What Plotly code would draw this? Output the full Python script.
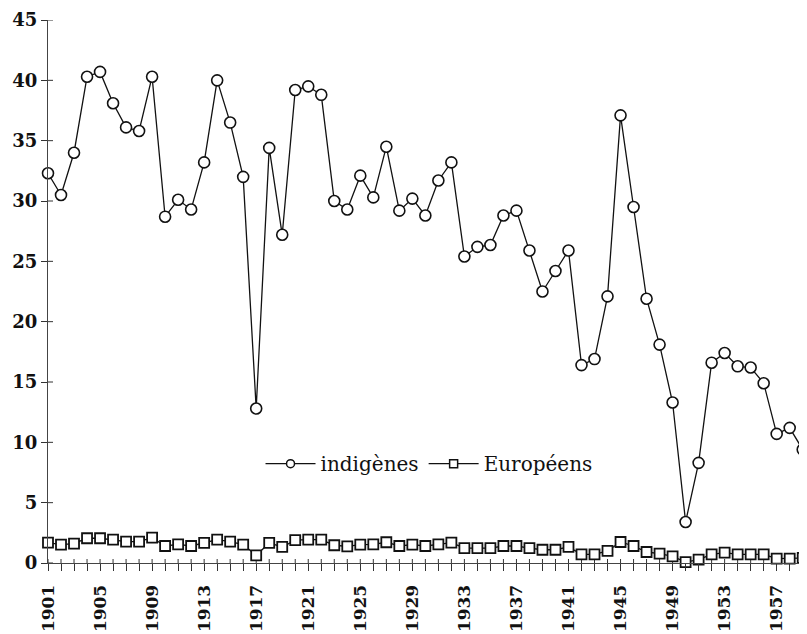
import plotly.graph_objects as go

years = list(range(1901, 1960))
indigenes = [32.3, 30.5, 34.0, 40.3, 40.7, 38.1, 36.1, 35.8, 40.3, 28.7,
             30.1, 29.3, 33.2, 40.0, 36.5, 32.0, 12.8, 34.4, 27.2, 39.2,
             39.5, 38.8, 30.0, 29.3, 32.1, 30.3, 34.5, 29.2, 30.2, 28.8,
             31.7, 33.2, 25.4, 26.2, 26.35, 28.8, 29.2, 25.9, 22.5, 24.2,
             25.9, 16.4, 16.9, 22.1, 37.1, 29.5, 21.9, 18.1, 13.3, 3.4,
             8.3, 16.6, 17.4, 16.3, 16.2, 14.9, 10.7, 11.2, 9.4]
europeens = [1.69, 1.52, 1.6, 2.05, 2.05, 1.94, 1.77, 1.77, 2.1, 1.41,
             1.55, 1.41, 1.66, 1.94, 1.77, 1.52, 0.64, 1.66, 1.33, 1.9,
             1.94, 1.94, 1.47, 1.38, 1.52, 1.55, 1.72, 1.41, 1.52, 1.41,
             1.55, 1.69, 1.24, 1.24, 1.24, 1.41, 1.41, 1.24, 1.1, 1.1,
             1.33, 0.72, 0.72, 1.0, 1.74, 1.41, 0.91, 0.78, 0.55, 0.08,
             0.28, 0.72, 0.86, 0.72, 0.72, 0.72, 0.36, 0.36, 0.42]
series_names = ["indigènes", "Européens"]
x_label_step = 4
y_ticks = list(range(0, 46, 5))

FONT = "DejaVu Serif"
INK = "#111111"
TICK = "#333333"

x_ticktext = [str(y) if (y - years[0]) % x_label_step == 0 else "" for y in years]

fig = go.Figure()
fig.add_trace(go.Scatter(
    x=years, y=indigenes, mode="lines+markers", showlegend=False,
    line=dict(color=INK, width=1.3), cliponaxis=False,
    marker=dict(symbol="circle", size=11, color="white",
                line=dict(color=INK, width=1.6))))
fig.add_trace(go.Scatter(
    x=years, y=europeens, mode="lines+markers", showlegend=False,
    line=dict(color=INK, width=1.3), cliponaxis=False,
    marker=dict(symbol="square", size=10, color="white",
                line=dict(color=INK, width=1.8))))
fig.add_trace(go.Scatter(
    x=[None], y=[None], mode="lines+markers", name=series_names[0],
    line=dict(color=INK, width=1.3),
    marker=dict(symbol="circle", size=8, color="white",
                line=dict(color=INK, width=1.5))))
fig.add_trace(go.Scatter(
    x=[None], y=[None], mode="lines+markers", name=series_names[1],
    line=dict(color=INK, width=1.3),
    marker=dict(symbol="square", size=8, color="white",
                line=dict(color=INK, width=1.5))))

# inner half of the crossing tick marks (pixel-sized, anchored at tick values)
shapes = []
for yv in years:
    shapes.append(dict(type="line", xref="x", yref="y", ysizemode="pixel",
                       yanchor=0, x0=yv, x1=yv, y0=0, y1=4,
                       line=dict(color=TICK, width=1), layer="below"))
for tv in y_ticks:
    shapes.append(dict(type="line", xref="x", yref="y", xsizemode="pixel",
                       xanchor=years[0], x0=0, x1=5, y0=tv, y1=tv,
                       line=dict(color=TICK, width=1), layer="below"))

xr = [1901, 1959.33]
yr = [0, 45]
ytickfont = dict(family=FONT, size=18, color=INK, weight="bold")
xtickfont = dict(family=FONT, size=17, color=INK, weight="bold")

# the page body has an 8px margin, so the figure is sized/offset for it
fig.update_layout(
    width=799, height=626,
    margin=dict(l=40, r=0, t=12, b=71),
    paper_bgcolor="white", plot_bgcolor="white",
    font=dict(family=FONT, size=18, color=INK),
    shapes=shapes,
    xaxis=dict(range=xr, showgrid=False, zeroline=False, automargin=False,
               showline=True, linecolor="#444", linewidth=1,
               tickmode="array", tickvals=years, ticktext=x_ticktext,
               ticks="outside", ticklen=7, tickwidth=1, tickcolor=TICK,
               tickangle=-90, tickfont=xtickfont, ticklabelstandoff=7),
    yaxis=dict(range=yr, showgrid=False, zeroline=False, automargin=False,
               showline=True, linecolor="#444", linewidth=1,
               tickmode="array", tickvals=y_ticks,
               ticks="outside", ticklen=6, tickwidth=1, tickcolor=TICK,
               tickfont=ytickfont),
    legend=dict(orientation="h", x=0.28, y=0.183, xanchor="left",
                yanchor="middle", bgcolor="rgba(0,0,0,0)",
                itemwidth=50, font=dict(family=FONT, size=20, color=INK)),
)

fig.write_html("out.html")
